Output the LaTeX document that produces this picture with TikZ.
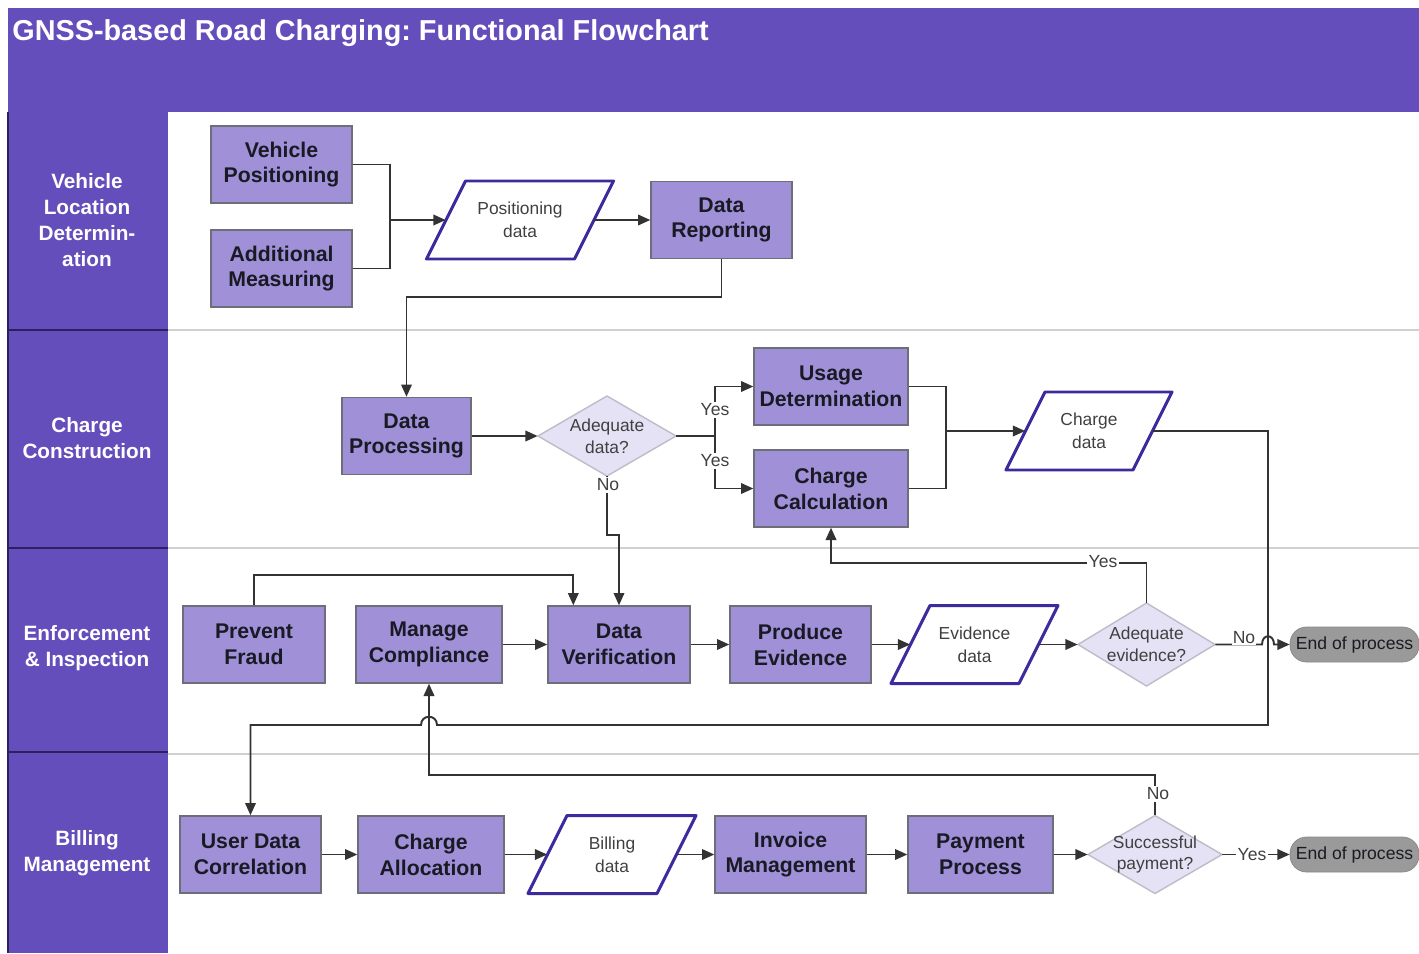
\documentclass[tikz,border=0pt]{standalone}
\usepackage{fontspec}
\setmainfont{Liberation Sans}
\usetikzlibrary{arrows.meta,calc}
\frenchspacing
\definecolor{lanepurple}{HTML}{634EBC}
\definecolor{lanedark}{HTML}{2B2160}
\definecolor{boxfill}{HTML}{9F90D8}
\definecolor{boxline}{HTML}{6E6E78}
\definecolor{dataline}{HTML}{3B2B9E}
\definecolor{diafill}{HTML}{E5E2F5}
\definecolor{dialine}{HTML}{BDBDC8}
\definecolor{connc}{HTML}{333333}
\definecolor{endfill}{HTML}{9A9A9A}
\definecolor{endline}{HTML}{888888}
\definecolor{sepgray}{HTML}{D0D0D0}
\definecolor{txtdark}{HTML}{1A1A24}
\definecolor{txtgray}{HTML}{404040}

\newcommand{\mydatanode}[5]{%
  \filldraw[dborder] ({#2-#4},{#3+39}) -- ({#2-#4+39},{#3-39}) -- ({#2+#4},{#3-39}) -- ({#2+#4-39},{#3+39}) -- cycle;
  \node[dtext, minimum width={(2*#4-39)*0.02cm}] (#1) at (#2,#3) {#5};}
\newcommand{\mydecision}[6]{%
  \filldraw[decborder] ({#2-#4/2},#3) -- (#2,{#3-#5/2}) -- ({#2+#4/2},#3) -- (#2,{#3+#5/2}) -- cycle;
  \node[dectext, minimum width=#4*0.02cm, minimum height=#5*0.02cm] (#1) at (#2,#3) {#6};}

\begin{document}
\begin{tikzpicture}[x=0.02cm,y=-0.02cm,
  proc/.style={draw=boxline, line width=0.8pt, fill=boxfill, minimum height=77*0.02cm, inner sep=0pt,
    align=center, text=txtdark, font=\fontsize{12.1}{14.7}\selectfont\bfseries},
  pw/.style={minimum width=#1*0.02cm},
  dborder/.style={draw=dataline, fill=white, line width=1.7pt, line join=round},
  dtext/.style={minimum height=78*0.02cm, inner sep=0pt, align=center, text=txtgray,
    font=\fontsize{9.9}{13}\selectfont},
  decborder/.style={draw=dialine, fill=diafill, line width=0.8pt},
  dectext/.style={inner sep=0pt, align=center, text=txtgray, font=\fontsize{9.9}{12.5}\selectfont},
  endn/.style={draw=endline, fill=endfill, rounded corners=0.33cm, minimum width=129*0.02cm,
    minimum height=35*0.02cm, inner sep=0pt, text=txtdark, font=\fontsize{10}{12}\selectfont},
  lanelbl/.style={align=center, text=white, font=\fontsize{11.8}{14.7}\selectfont\bfseries},
  line/.style={draw=connc, line width=1.1pt},
  arr/.style={line, -{Triangle[length=7pt,width=6pt]}},
  lbl/.style={fill=white, inner sep=1pt, text=txtgray, font=\fontsize{10}{12}\selectfont},
]
\useasboundingbox (0,0) rectangle (1419,953);
\fill[white] (0,0) rectangle (1419,953);
% header and lane column
\fill[lanepurple] (8,8) rectangle (1419,112);
\fill[lanepurple] (8,8) rectangle (168,953);
\draw[lanedark, line width=0.6pt] (8,112) -- (8,953);
\draw[lanedark, line width=1pt] (8,330) -- (168,330);
\draw[lanedark, line width=1pt] (8,548) -- (168,548);
\draw[lanedark, line width=1pt] (8,752) -- (168,752);
\draw[sepgray, line width=0.8pt] (168,330) -- (1419,330);
\draw[sepgray, line width=0.8pt] (168,548) -- (1419,548);
\draw[sepgray, line width=0.8pt] (168,754) -- (1419,754);

\node[anchor=west, inner sep=0pt, text=white, font=\fontsize{16.4}{19}\selectfont\bfseries] (title) at (12,33)
  {GNSS-based Road Charging: Functional Flowchart};

\node[lanelbl] (l1) at (87,220) {Vehicle\\Location\\Determin-\\ation};
\node[lanelbl] (l2) at (87,438) {Charge\\Construction};
\node[lanelbl] (l3) at (87,648) {Enforcement\\\& Inspection};
\node[lanelbl] (l4) at (87,853) {Billing\\Management};

% lane 1
\node[proc,pw=141] (vp) at (281.5,164.5) {Vehicle\\Positioning};
\node[proc,pw=141] (am) at (281.5,268.5) {Additional\\Measuring};
\mydatanode{pd}{520}{220}{93.5}{Positioning\\data}
\node[proc,pw=141] (dr) at (721.5,220) {Data\\Reporting};

% lane 2
\node[proc,pw=129] (dp) at (406.5,436) {Data\\Processing};
\mydecision{ad}{607}{436}{138}{80}{Adequate\\data?}
\node[proc,pw=154] (ud) at (831,386.5) {Usage\\Determination};
\node[proc,pw=154] (cc) at (831,488.5) {Charge\\Calculation};
\mydatanode{cd}{1089}{431}{83}{Charge\\data}

% lane 3
\node[proc,pw=142] (pf) at (254,644.5) {Prevent\\Fraud};
\node[proc,pw=146] (mc) at (429,644.5) {Manage\\Compliance};
\node[proc,pw=142] (dv) at (619,644.5) {Data\\Verification};
\node[proc,pw=141] (pe) at (800.5,644.5) {Produce\\Evidence};
\mydatanode{ed}{974.5}{644.5}{83.5}{Evidence\\data}
\mydecision{ae}{1146.5}{644.5}{137}{83}{Adequate\\evidence?}
\node[endn] (e1) at (1354.5,644.5) {End of process};

% lane 4
\node[proc,pw=141] (uc) at (250.5,854.5) {User Data\\Correlation};
\node[proc,pw=146] (ca) at (431,854.5) {Charge\\Allocation};
\mydatanode{bd}{612}{854.5}{84}{Billing\\data}
\node[proc,pw=151] (im) at (790.5,854.5) {Invoice\\Management};
\node[proc,pw=145] (pp) at (980.5,854.5) {Payment\\Process};
\mydecision{sp}{1155}{854.5}{134}{78}{Successful\\payment?}
\node[endn] (e2) at (1354.5,854.5) {End of process};

% connectors lane 1
\coordinate (j1) at (390,220);
\draw[line] (vp.east) -| (j1);
\draw[line] (am.east) -| (j1);
\draw[arr] (j1) -- (pd.west);
\draw[arr] (pd.east) -- (dr.west);
\draw[arr] (dr.south) -- (721.5,297) -| (dp.north);

% lane 2
\draw[arr] (dp.east) -- (ad.west);
\coordinate (j2) at (715,436);
\draw[line] (ad.east) -- (j2);
\draw[arr] (j2) |- (ud.west);
\draw[arr] (j2) |- (cc.west);
\node[lbl] (y1) at (715,410) {Yes};
\node[lbl] (y2) at (715,461) {Yes};
\draw[arr] (ad.south) -- (607,535) -- (619,535) -- (dv.north);
\node[lbl] (n1) at (608,485) {No};
\coordinate (j3) at (946,431);
\draw[line] (ud.east) -| (j3);
\draw[line] (cc.east) -| (j3);
\draw[arr] (j3) -- (cd.west);
\draw[arr] (cd.east) -| (1268,725) -- (437,725) .. controls (437,714) and (421,714) .. (421,725) -| (uc.north);

% lane 3
\draw[arr] (pf.north) |- ($(dv.north west)+(26,-30)$) -- ($(dv.north west)+(26,0)$);
\draw[arr] (mc.east) -- (dv.west);
\draw[arr] (dv.east) -- (pe.west);
\draw[arr] (pe.east) -- (ed.west);
\draw[arr] (ed.east) -- (ae.west);
\draw[arr] (ae.north) -- (1146.5,563) -| (cc.south);
\node[lbl] (y3) at (1103,562) {Yes};
\draw[arr] (ae.east) -- (1262,644.5) .. controls (1262,633.5) and (1274,633.5) .. (1274,644.5) -- (e1.west);
\node[lbl, inner sep=0.5pt] (n2) at (1244,638) {No};

% lane 4
\draw[arr] (uc.east) -- (ca.west);
\draw[arr] (ca.east) -- (bd.west);
\draw[arr] (bd.east) -- (im.west);
\draw[arr] (im.east) -- (pp.west);
\draw[arr] (pp.east) -- (sp.west);
\draw[arr] (sp.north) -- (1155,775) -| (mc.south);
\node[lbl] (n3) at (1158,794) {No};
\draw[arr] (sp.east) -- (e2.west);
\node[lbl] (y4) at (1252,855) {Yes};
\end{tikzpicture}
\end{document}
